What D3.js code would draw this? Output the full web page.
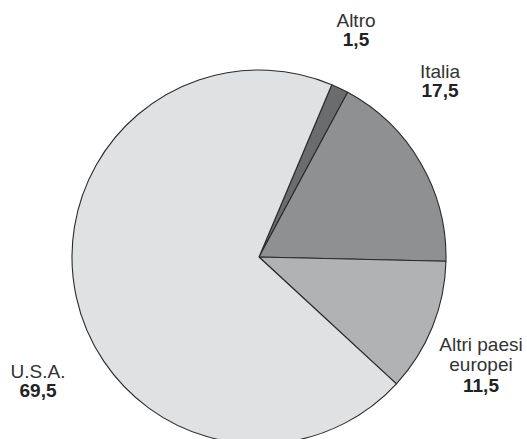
<!DOCTYPE html>
<html>
<head>
<meta charset="utf-8">
<script src="https://cdn.jsdelivr.net/npm/d3@7"></script>
<style>
  html, body { margin: 0; padding: 0; background: #fff; }
  svg { display: block; font-family: "Liberation Sans", Arial, sans-serif; }
</style>
</head>
<body>
<svg id="chart" width="527" height="439"></svg>
<script>
// Share by origin (%)
const categories = ["Altro", "Italia", "Altri paesi europei", "U.S.A."];
const values = [1.5, 17.5, 11.5, 69.5];
const valueLabels = ["1,5", "17,5", "11,5", "69,5"];
const nameLines = [["Altro"], ["Italia"], ["Altri paesi", "europei"], ["U.S.A."]];
const colors = ["#6b6c6e", "#8f9092", "#b1b2b4", "#e0e1e3"];

// label anchor points (x, y of first line baseline)
const labelPos = [[356, 27], [440, 78], [481, 351], [38, 378]];

const svg = d3.select("#chart");
const cx = 259, cy = 257, r = 187;

const startDeg = 22.9;
const pie = d3.pie()
  .sort(null)
  .value(d => d)
  .startAngle(startDeg * Math.PI / 180)
  .endAngle((startDeg + 360) * Math.PI / 180);

const arc = d3.arc().innerRadius(0).outerRadius(r);

const g = svg.append("g").attr("transform", `translate(${cx},${cy})`);
g.selectAll("path")
  .data(pie(values))
  .join("path")
  .attr("d", arc)
  .attr("fill", (d, i) => colors[i])
  .attr("stroke", "#2a2a2a")
  .attr("stroke-width", 1.1)
  .attr("stroke-linejoin", "round");

const fs = 19, lineH = 20;
categories.forEach((c, i) => {
  const [x, y] = labelPos[i];
  const t = svg.append("text")
    .attr("x", x).attr("y", y)
    .attr("text-anchor", "middle")
    .attr("font-size", fs)
    .attr("fill", "#333");
  nameLines[i].forEach((ln, k) => {
    t.append("tspan").attr("x", x).attr("dy", k === 0 ? 0 : lineH).text(ln);
  });
  svg.append("text")
    .attr("x", x)
    .attr("y", y + lineH * nameLines[i].length + (nameLines[i].length > 1 ? 1 : -1))
    .attr("text-anchor", "middle")
    .attr("font-size", fs)
    .attr("font-weight", "bold")
    .attr("fill", "#222")
    .text(valueLabels[i]);
});
</script>
</body>
</html>
